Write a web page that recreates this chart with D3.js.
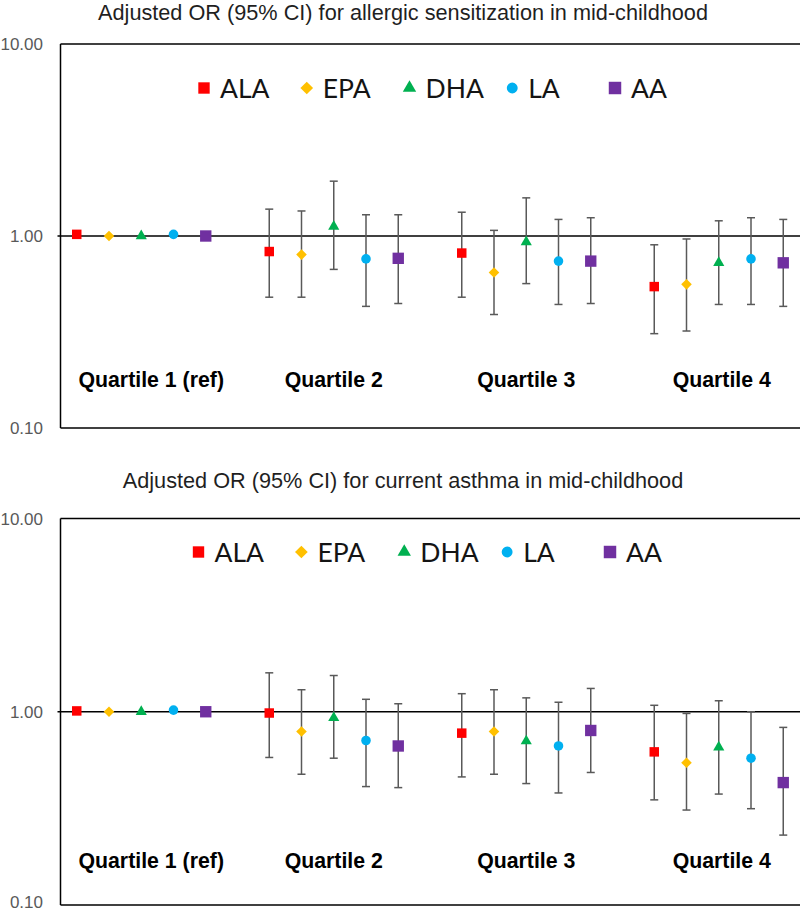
<!DOCTYPE html>
<html>
<head>
<meta charset="utf-8">
<script src="https://cdn.jsdelivr.net/npm/d3@7"></script>
<style>
  html, body { margin: 0; padding: 0; background: #fff; }
  svg { display: block; }
</style>
</head>
<body>
<svg id="chart" width="800" height="912"></svg>
<script>
// ---------- data ----------
const quartiles = ["Quartile 1 (ref)", "Quartile 2", "Quartile 3", "Quartile 4"];
const series = ["ALA", "EPA", "DHA", "LA", "AA"];
const seriesColors = ["#FF0000", "#FFC000", "#00B050", "#00B0F0", "#7030A0"];
const seriesShapes = ["square", "diamond", "triangle", "circle", "square"];
const yTicks = [0.1, 1, 10];

// Allergic sensitization: rows = quartiles, columns = series
const sensOR = [
  [1.02, 1.00, 1.00, 1.02, 1.00],
  [0.83, 0.80, 1.12, 0.76, 0.765],
  [0.815, 0.645, 0.93, 0.74, 0.74],
  [0.545, 0.56, 0.725, 0.76, 0.725]
];
const sensLo = [
  [null, null, null, null, null],
  [0.48, 0.48, 0.67, 0.43, 0.445],
  [0.48, 0.39, 0.565, 0.44, 0.445],
  [0.31, 0.32, 0.44, 0.44, 0.43]
];
const sensHi = [
  [null, null, null, null, null],
  [1.38, 1.35, 1.93, 1.29, 1.29],
  [1.33, 1.07, 1.58, 1.22, 1.245],
  [0.90, 0.965, 1.20, 1.245, 1.22]
];

// Current asthma
const asthOR = [
  [1.01, 1.00, 1.00, 1.02, 1.00],
  [0.985, 0.79, 0.93, 0.71, 0.665],
  [0.775, 0.79, 0.705, 0.665, 0.80],
  [0.62, 0.545, 0.655, 0.575, 0.43]
];
const asthLo = [
  [null, null, null, null, null],
  [0.58, 0.475, 0.575, 0.41, 0.405],
  [0.46, 0.475, 0.425, 0.38, 0.485],
  [0.35, 0.31, 0.375, 0.315, 0.23]
];
const asthHi = [
  [null, null, null, null, null],
  [1.59, 1.30, 1.54, 1.16, 1.10],
  [1.24, 1.30, 1.18, 1.12, 1.32],
  [1.08, 0.98, 1.14, 1.00, 0.83]
];

const titles = [
  "Adjusted OR (95% CI) for allergic sensitization in mid-childhood",
  "Adjusted OR (95% CI) for current asthma in mid-childhood"
];

// ---------- layout ----------
const panels = [
  { title: titles[0], or: sensOR, lo: sensLo, hi: sensHi,
    titleY: 20, top: 44, bottom: 428, legendY: 88, legendX: [204, 615], labelY: 386.5 },
  { title: titles[1], or: asthOR, lo: asthLo, hi: asthHi,
    titleY: 488, top: 518.5, bottom: 905, legendY: 552, legendX: [198.5, 610], labelY: 868 }
];

const svg = d3.select("#chart");
const axisLeft = 60.5, rightEdge = 800, pageH = 912;

const x = d3.scaleBand().domain(quartiles).range([45, 815]).padding(0);
const inner = d3.scalePoint().domain(series).range([-64.5, 64.5]);

const squareDiamond = {
  draw(ctx, size) {
    const r = Math.sqrt(size / 2);
    ctx.moveTo(0, -r); ctx.lineTo(r, 0); ctx.lineTo(0, r); ctx.lineTo(-r, 0); ctx.closePath();
  }
};
function symbolFor(shape) {
  return { square: d3.symbolSquare, diamond: squareDiamond,
           triangle: d3.symbolTriangle, circle: d3.symbolCircle }[shape];
}
function sizeFor(shape, big) {
  const k = big ? 1.2 : 1;
  return ({ square: 90, diamond: 56, triangle: 54, circle: 72 }[shape]) * k * k;
}

panels.forEach(p => {
  const g = svg.append("g");
  const y = d3.scaleLog().domain([0.1, 10]).range([p.bottom, p.top]);

  // title
  g.append("text")
    .attr("x", 403).attr("y", p.titleY)
    .attr("text-anchor", "middle")
    .attr("font-family", "Liberation Sans, Arial, sans-serif")
    .attr("font-size", 21.7)
    .attr("fill", "#1f1f1f")
    .text(p.title);

  // frame: top, left, bottom
  g.append("line").attr("x1", axisLeft).attr("x2", rightEdge)
    .attr("y1", y(10)).attr("y2", y(10)).attr("stroke", "#000").attr("stroke-width", 1.5);
  g.append("line").attr("x1", axisLeft).attr("x2", rightEdge)
    .attr("y1", y(0.1)).attr("y2", y(0.1)).attr("stroke", "#000").attr("stroke-width", 1.5);
  g.append("line").attr("x1", axisLeft).attr("x2", axisLeft)
    .attr("y1", y(10)).attr("y2", y(0.1)).attr("stroke", "#000").attr("stroke-width", 1.5);
  // reference line at 1
  g.append("line").attr("x1", axisLeft - 3).attr("x2", rightEdge)
    .attr("y1", y(1)).attr("y2", y(1)).attr("stroke", "#000").attr("stroke-width", 1.5);

  // y tick labels (baseline kept inside the page)
  g.selectAll("text.ytick").data(yTicks).join("text")
    .attr("class", "ytick")
    .attr("x", 43).attr("y", d => Math.min(y(d) + 6, pageH - 4.5))
    .attr("text-anchor", "end")
    .attr("font-family", "Liberation Sans, Arial, sans-serif")
    .attr("font-size", 17)
    .attr("fill", "#595959")
    .text(d => d3.format(".2f")(d));

  // legend
  const lx = d3.scalePoint().domain(series).range(p.legendX);
  series.forEach((s, i) => {
    const shape = seriesShapes[i];
    g.append("path")
      .attr("transform", `translate(${lx(s)},${p.legendY})`)
      .attr("d", d3.symbol().type(symbolFor(shape)).size(sizeFor(shape, true) * (shape === "circle" ? 0.9 : 1) * (i === 4 ? 1.2 : 1))())
      .attr("fill", seriesColors[i]);
    g.append("text")
      .attr("x", lx(s) + 16).attr("y", p.legendY)
      .attr("dy", "0.36em")
      .attr("font-family", "Lato, Liberation Sans, sans-serif")
      .attr("font-size", 26.5)
      .attr("fill", "#141414")
      .text(s);
  });

  // quartile labels
  g.selectAll("text.qlab").data(quartiles).join("text")
    .attr("class", "qlab")
    .attr("x", (d, i) => x(d) + x.bandwidth() / 2 + (i === 0 ? 10 : (i === 3 ? 3 : 0)))
    .attr("y", p.labelY)
    .attr("text-anchor", "middle")
    .attr("font-family", "Liberation Sans, Arial, sans-serif")
    .attr("font-weight", "bold")
    .attr("font-size", 21.3)
    .attr("fill", "#000")
    .text(d => d);

  // points
  const pts = [];
  quartiles.forEach((q, qi) => {
    series.forEach((s, si) => {
      pts.push({ q, s, si, or: p.or[qi][si], lo: p.lo[qi][si], hi: p.hi[qi][si] });
    });
  });
  const px = d => x(d.q) + x.bandwidth() / 2 + inner(d.s);

  const eb = g.append("g").attr("stroke", "#595959").attr("stroke-width", 1.5).attr("fill", "none");
  pts.filter(d => d.lo != null).forEach(d => {
    const cx = px(d);
    eb.append("line").attr("x1", cx).attr("x2", cx).attr("y1", y(d.lo)).attr("y2", y(d.hi));
    eb.append("line").attr("x1", cx - 4).attr("x2", cx + 4).attr("y1", y(d.lo)).attr("y2", y(d.lo));
    eb.append("line").attr("x1", cx - 4).attr("x2", cx + 4).attr("y1", y(d.hi)).attr("y2", y(d.hi));
  });

  g.selectAll("path.pt").data(pts).join("path")
    .attr("class", "pt")
    .attr("transform", d => `translate(${px(d)},${y(d.or)})`)
    .attr("d", d => d3.symbol().type(symbolFor(seriesShapes[d.si])).size(sizeFor(seriesShapes[d.si], d.si === 4))())
    .attr("fill", d => seriesColors[d.si]);
});
</script>
</body>
</html>
